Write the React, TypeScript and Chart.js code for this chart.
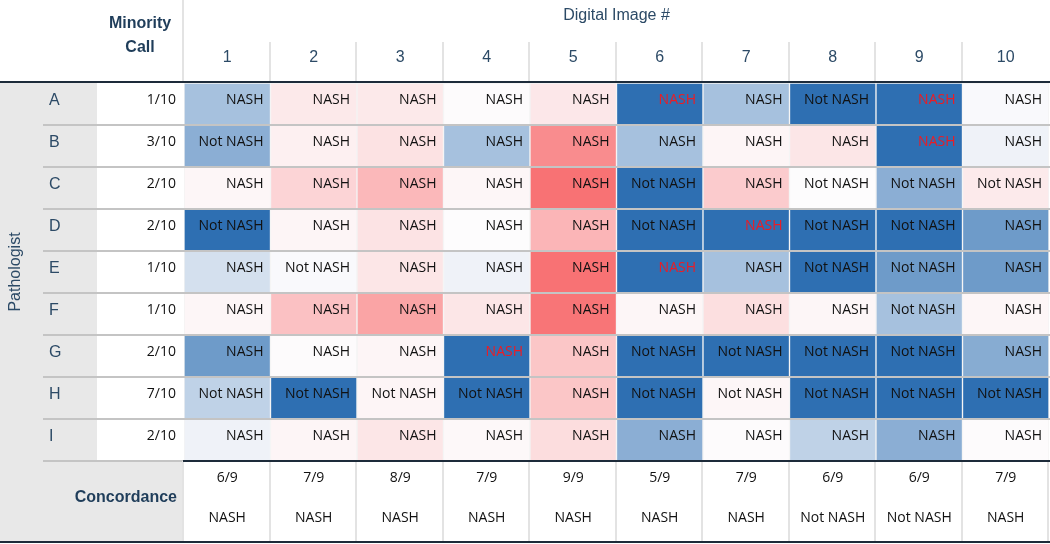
import React, { useEffect, useRef } from "react";
import { Chart, registerables } from "chart.js";

Chart.register(...registerables);

const images = ["1", "2", "3", "4", "5", "6", "7", "8", "9", "10"];
const pathologists = ["A", "B", "C", "D", "E", "F", "G", "H", "I"];
const minorityCalls = ["1/10", "3/10", "2/10", "2/10", "1/10", "1/10", "2/10", "7/10", "2/10"];

const N = "NASH";
const X = "Not NASH";

// Call made by each pathologist (rows) on each digital image (columns)
const calls = [
  [N, N, N, N, N, N, N, X, N, N],
  [X, N, N, N, N, N, N, N, N, N],
  [N, N, N, N, N, X, N, X, X, X],
  [X, N, N, N, N, X, N, X, X, N],
  [N, X, N, N, N, N, N, X, X, N],
  [N, N, N, N, N, N, N, N, X, N],
  [N, N, N, N, N, X, X, X, X, N],
  [X, X, X, X, N, X, X, X, X, X],
  [N, N, N, N, N, N, N, N, N, N],
];

// Heat score per cell: -1 = strong blue, 0 = white, +1 = strong red
const scores = [
  [-0.42, 0.13, 0.13, 0.01, 0.14, -1, -0.42, -1, -1, -0.02],
  [-0.55, 0.08, 0.18, -0.42, 0.76, -0.42, 0.05, 0.15, -1, -0.07],
  [0.04, 0.27, 0.46, 0.04, 0.94, -1, 0.33, 0.0, -0.55, 0.12],
  [-1, 0.05, 0.17, 0.0, 0.48, -1, -1, -1, -1, -0.69],
  [-0.2, -0.02, 0.15, -0.07, 0.94, -1, -0.42, -1, -0.69, -0.69],
  [0.04, 0.4, 0.6, 0.15, 0.92, 0.04, 0.2, 0.04, -0.42, 0.04],
  [-0.69, 0.01, 0.05, -1, 0.37, -1, -1, -1, -1, -0.57],
  [-0.3, -1, 0.05, -1, 0.37, -1, 0.04, -1, -1, -1],
  [-0.07, 0.05, 0.15, 0.03, 0.21, -0.55, 0.01, -0.3, -0.55, 0.01],
];

// Cells whose call is shown in red: [row, column]
const redCalls = [
  [0, 5],
  [0, 8],
  [1, 8],
  [3, 6],
  [4, 5],
  [6, 3],
];

const concordanceRatio = ["6/9", "7/9", "8/9", "7/9", "9/9", "5/9", "7/9", "6/9", "6/9", "7/9"];
const concordanceCall = [N, N, N, N, N, N, N, X, X, N];

const WHITE = [253, 252, 253];
const BLUE = [46, 111, 178];
const RED = [248, 105, 107];

function scoreColor(t: number): string {
  const end = t < 0 ? BLUE : RED;
  const a = Math.min(1, Math.abs(t));
  const c = WHITE.map((w, i) => Math.round(w + (end[i] - w) * a));
  return `rgb(${c[0]},${c[1]},${c[2]})`;
}

const HEAD = "#1f3d5a";
const HEAD2 = "#2c4a66";
const DARK = "#1d2b3a";
const GREY = "#e8e8e8";

const tablePlugin = {
  id: "tableDecor",
  beforeDraw(chart: any) {
    const ctx = chart.ctx;
    const y = chart.scales.y;
    const x = chart.scales.x;
    const top = y.getPixelForValue(0);
    const bottom = y.getPixelForValue(9);
    const left = chart.chartArea.left;
    ctx.save();
    ctx.fillStyle = "#ffffff";
    ctx.fillRect(0, 0, chart.width, chart.height);
    ctx.fillStyle = GREY;
    ctx.fillRect(0, top, 97, chart.height - top - 2);
    ctx.fillRect(0, bottom, left, chart.height - bottom - 2);
    ctx.restore();
  },
  afterDatasetsDraw(chart: any) {
    const ctx = chart.ctx;
    const xs = chart.scales.x;
    const ys = chart.scales.y;
    const area = chart.chartArea;
    const W = chart.width;
    const H = chart.height;
    const colW = (area.right - area.left) / images.length;
    const boundary = (i: number) => area.left + i * colW;
    const rowTop = (r: number) => ys.getPixelForValue(r);
    const top = rowTop(0);
    const bottom = rowTop(9);

    ctx.save();
    // row separators
    ctx.lineWidth = 2;
    ctx.strokeStyle = "#c4c4c4";
    for (let r = 1; r < pathologists.length; r++) {
      const yy = Math.round(rowTop(r));
      ctx.beginPath();
      ctx.moveTo(43, yy);
      ctx.lineTo(W, yy);
      ctx.stroke();
    }
    ctx.beginPath();
    ctx.moveTo(43, Math.round(bottom));
    ctx.lineTo(area.left, Math.round(bottom));
    ctx.stroke();

    // header & concordance vertical separators
    ctx.strokeStyle = "#e3e3e3";
    ctx.lineWidth = 2;
    for (let i = 0; i <= images.length; i++) {
      const bx = Math.round(boundary(i)) - 1;
      if (i < images.length) {
        ctx.beginPath();
        ctx.moveTo(bx, i === 0 ? 0 : 42);
        ctx.lineTo(bx, top - 1);
        ctx.stroke();
      }
      ctx.beginPath();
      ctx.moveTo(bx, bottom);
      ctx.lineTo(bx, H - 2);
      ctx.stroke();
    }

    // dark rules
    ctx.strokeStyle = DARK;
    ctx.lineWidth = 2;
    ctx.beginPath();
    ctx.moveTo(0, Math.round(top) - 1);
    ctx.lineTo(W, Math.round(top) - 1);
    ctx.stroke();
    ctx.beginPath();
    ctx.moveTo(area.left - 1, Math.round(bottom));
    ctx.lineTo(W, Math.round(bottom));
    ctx.stroke();
    ctx.beginPath();
    ctx.moveTo(0, H - 2);
    ctx.lineTo(W, H - 2);
    ctx.stroke();

    // header texts
    ctx.textBaseline = "alphabetic";
    ctx.fillStyle = HEAD;
    ctx.font = 'bold 16px "Liberation Sans", Arial, sans-serif';
    ctx.textAlign = "center";
    ctx.fillText("Minority", 140, 28);
    ctx.fillText("Call", 140, 52);
    ctx.fillStyle = HEAD2;
    ctx.font = '16px "Liberation Sans", Arial, sans-serif';
    ctx.fillText("Digital Image #", (area.left + area.right) / 2, 20);
    images.forEach((lab, i) => {
      ctx.fillText(lab, xs.getPixelForValue(i), 62);
    });

    // Pathologist vertical label
    ctx.save();
    ctx.translate(20, (top + bottom) / 2);
    ctx.rotate(-Math.PI / 2);
    ctx.textAlign = "center";
    ctx.fillText("Pathologist", 0, 0);
    ctx.restore();

    // row letters & minority call
    pathologists.forEach((p, r) => {
      const ty = rowTop(r) + 21;
      ctx.fillStyle = HEAD2;
      ctx.font = '16px "Liberation Sans", Arial, sans-serif';
      ctx.textAlign = "left";
      ctx.fillText(p, 49, ty + 0.5);
      ctx.fillStyle = "#111111";
      ctx.font = '14px "Open Sans", sans-serif';
      ctx.textAlign = "right";
      ctx.fillText(minorityCalls[r], 176, ty);
    });

    // cell calls
    ctx.font = '14px "Open Sans", sans-serif';
    ctx.textAlign = "right";
    calls.forEach((row, r) => {
      row.forEach((c, i) => {
        const isRed = redCalls.some(([rr, cc]) => rr === r && cc === i);
        ctx.fillStyle = isRed ? "#ec1c24" : "#111111";
        ctx.fillText(c, boundary(i + 1) - 7, rowTop(r) + 20.5);
      });
    });

    // concordance row
    ctx.fillStyle = HEAD;
    ctx.font = 'bold 16px "Liberation Sans", Arial, sans-serif';
    ctx.textAlign = "right";
    ctx.fillText("Concordance", 177, 502);
    ctx.fillStyle = "#111111";
    ctx.font = '14px "Open Sans", sans-serif';
    ctx.textAlign = "center";
    images.forEach((_, i) => {
      const cx = xs.getPixelForValue(i);
      ctx.fillText(concordanceRatio[i], cx, 482);
      ctx.fillText(concordanceCall[i], cx, 522);
    });
    ctx.restore();
  },
};

export default function App() {
  const ref = useRef<HTMLCanvasElement>(null);
  useEffect(() => {
    document.body.style.margin = "0";
    if (!ref.current) return;
    const datasets = pathologists.map((p, r) => ({
      label: p,
      data: images.map(() => [r, r + 1]),
      backgroundColor: scores[r].map(scoreColor),
      borderColor: "#f3f3f3",
      borderWidth: 1,
      borderSkipped: false,
      grouped: false,
      barPercentage: 1,
      categoryPercentage: 1,
    }));
    const chart = new Chart(ref.current, {
      type: "bar",
      data: { labels: images, datasets: datasets as any },
      options: {
        animation: false,
        responsive: false,
        devicePixelRatio: 1,
        layout: { padding: { left: 184, top: 83, right: 1, bottom: 83 } },
        plugins: { legend: { display: false }, tooltip: { enabled: false }, title: { display: false } },
        scales: {
          x: { type: "category", display: false, offset: true },
          y: { type: "linear", display: false, min: 0, max: 9, reverse: true },
        },
      },
      plugins: [tablePlugin],
    });
    return () => chart.destroy();
  }, []);
  return (
    <div style={{ width: 1050, height: 544 }}>
      <canvas ref={ref} width={1050} height={544} style={{ display: "block" }} />
    </div>
  );
}
